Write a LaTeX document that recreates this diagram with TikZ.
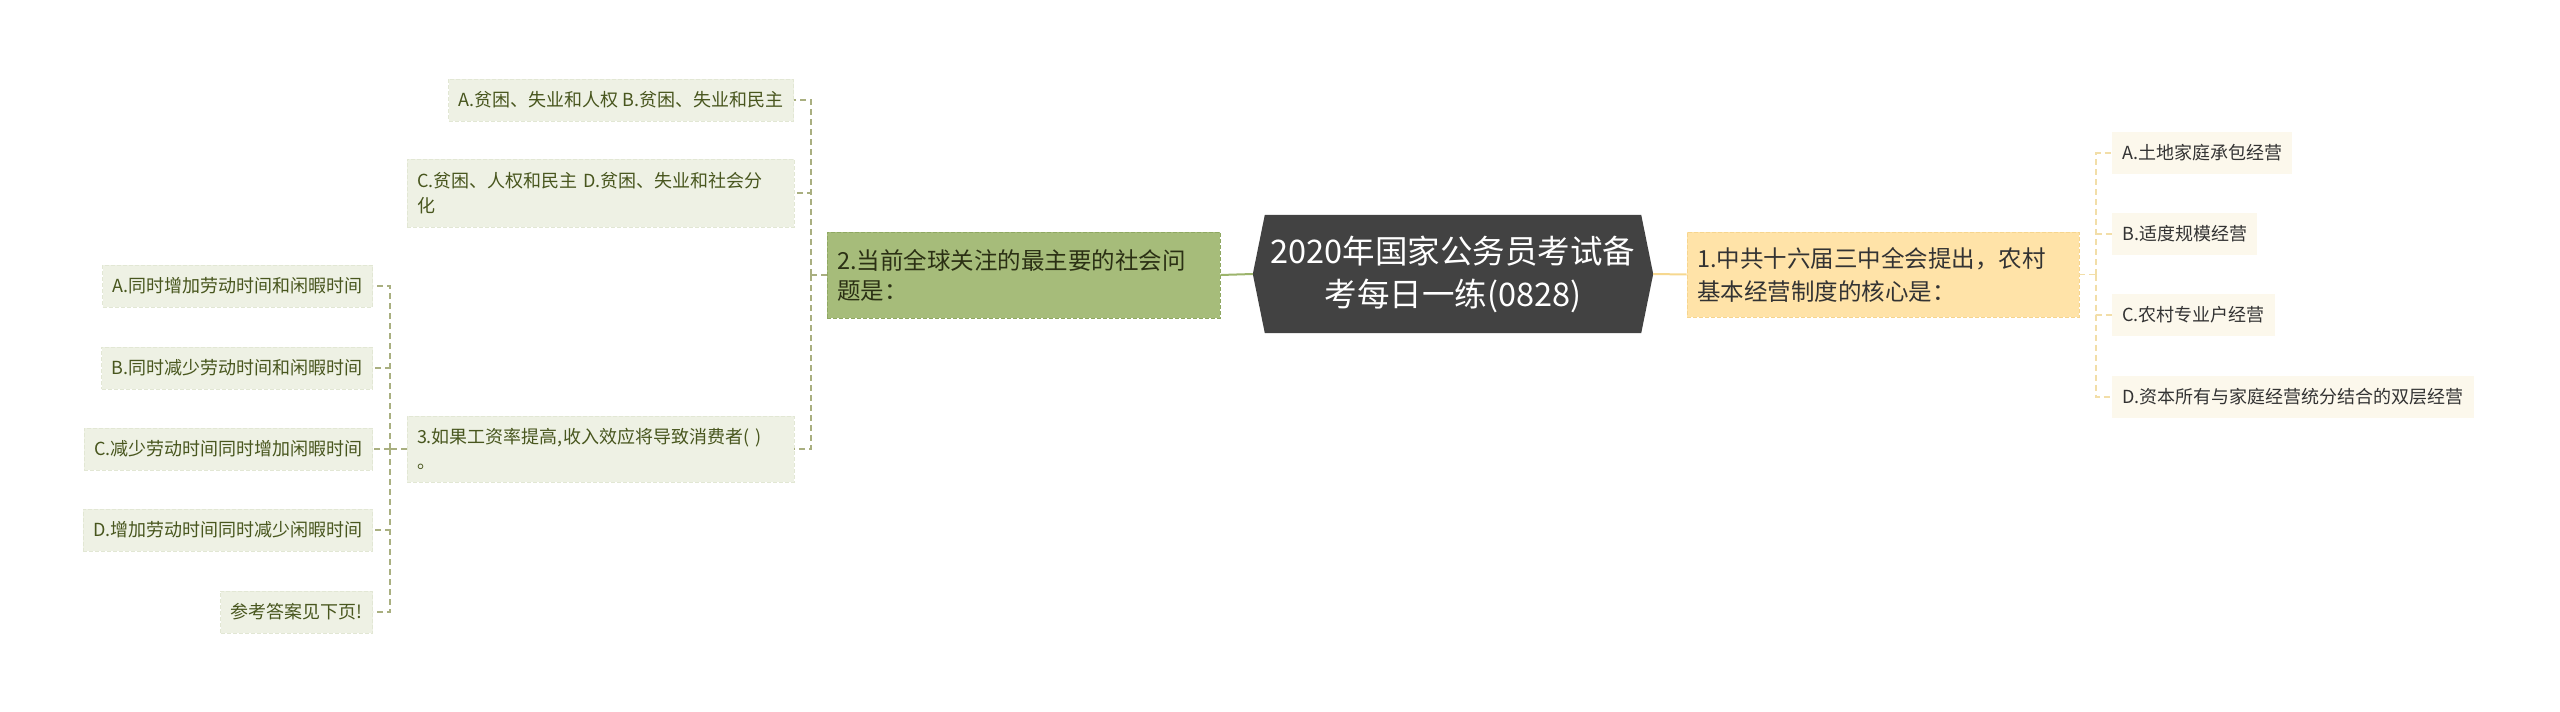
\documentclass[tikz,border=0pt]{standalone}
\usepackage{fontspec}
\newfontfamily\cjk{Noto Sans CJK SC}
\usetikzlibrary{backgrounds}
\definecolor{cfill}{HTML}{424242}
\definecolor{gfill}{HTML}{A6BC7A}
\definecolor{gline}{HTML}{8FA862}
\definecolor{gtext}{HTML}{2B3014}
\definecolor{lfill}{HTML}{EEF1E4}
\definecolor{lborder}{HTML}{E2E7D4}
\definecolor{ltext}{HTML}{48561E}
\definecolor{yfill}{HTML}{FFE3A8}
\definecolor{yborder}{HTML}{F6D58E}
\definecolor{rfill}{HTML}{FCF8EC}
\definecolor{rtext}{HTML}{333333}
\definecolor{lconncol}{HTML}{A9AF80}
\definecolor{rconncol}{HTML}{F2DEA8}
\definecolor{gconn}{HTML}{9CB46C}
\definecolor{yconn}{HTML}{F6D890}
\tikzset{
  every node/.style={font=\cjk},
  centernode/.style={minimum width=400pt, minimum height=118pt, text=white, align=center,
     font=\cjk\fontsize{32.5}{43}\selectfont, inner sep=0pt},
  greenbox/.style={fill=gfill, draw=gline, dashed, dash pattern=on 4pt off 2pt, line width=1pt,
     text=gtext, align=left, text width=373pt, inner xsep=10pt, minimum height=86pt,
     font=\cjk\fontsize{23.5}{30}\selectfont},
  yellowbox/.style={fill=yfill, draw=yborder, dash pattern=on 4pt off 2pt, line width=0.8pt,
     text=rtext, align=left, text width=372pt, inner xsep=10pt, minimum height=85pt,
     font=\cjk\fontsize{23.5}{33}\selectfont},
  leftleaf/.style={fill=lfill, draw=lborder, dash pattern=on 4pt off 2pt, line width=0.8pt,
     text=ltext, inner xsep=10pt, minimum height=42pt, anchor=east,
     font=\cjk\fontsize{18}{24}\selectfont},
  leftbig/.style={fill=lfill, draw=lborder, dash pattern=on 4pt off 2pt, line width=0.8pt,
     text=ltext, align=left, text width=367pt, inner xsep=10pt,
     font=\cjk\fontsize{18}{25}\selectfont},
  rightleaf/.style={fill=rfill, draw=none, text=rtext, inner xsep=10pt, minimum height=42pt,
     anchor=west, font=\cjk\fontsize{18}{24}\selectfont},
  lconn/.style={draw=lconncol, line width=1.4pt, dash pattern=on 6pt off 4pt},
  rconn/.style={draw=rconncol, line width=1.4pt, dash pattern=on 6pt off 4pt},
}
\begin{document}
\begin{tikzpicture}[x=1pt,y=-1pt]
\useasboundingbox (0,0) rectangle (2560,712);

% center
\node[centernode] (c) at (1453,274) {2020年国家公务员考试备\\考每日一练(0828)};
\begin{scope}[on background layer]
\fill[cfill] ([xshift=12pt]c.north west) -- ([xshift=-12pt]c.north east) -- (c.east)
  -- ([xshift=-12pt]c.south east) -- ([xshift=12pt]c.south west) -- (c.west) -- cycle;
\end{scope}

% level 1
\node[greenbox] (n2) at (1023.5,275) {2.当前全球关注的最主要的社会问\\题是：};
\node[yellowbox] (n1) at (1883,274.5) {1.中共十六届三中全会提出，农村\\基本经营制度的核心是：};

% right leaves
\node[rightleaf] (ra) at (2112,153) {A.土地家庭承包经营};
\node[rightleaf] (rb) at (2112,234) {B.适度规模经营};
\node[rightleaf] (rc) at (2112,315) {C.农村专业户经营};
\node[rightleaf] (rd) at (2112,397) {D.资本所有与家庭经营统分结合的双层经营};

% node 2 children
\node[leftleaf] (n2a) at (794,100) {A.贫困、失业和人权 B.贫困、失业和民主};
\node[leftbig, minimum height=68pt] (n2b) at (600.5,193) {C.贫困、人权和民主 D.贫困、失业和社会分\\化};
\node[leftbig, minimum height=66pt] (n3) at (600.5,449) {3.如果工资率提高,收入效应将导致消费者( )\\。};

% node 3 children
\node[leftleaf] (la) at (373,286) {A.同时增加劳动时间和闲暇时间};
\node[leftleaf] (lb) at (373,368) {B.同时减少劳动时间和闲暇时间};
\node[leftleaf] (lc) at (373,449) {C.减少劳动时间同时增加闲暇时间};
\node[leftleaf] (ld) at (373,530) {D.增加劳动时间同时减少闲暇时间};
\node[leftleaf] (le) at (373,612) {参考答案见下页!};

% junctions
\coordinate (j1) at (2096,274.5);
\coordinate (j2) at (811,275);
\coordinate (j3) at (390,449);

% connectors
\draw[gconn, line width=2pt] (c.west) -- (n2.east);
\draw[yconn, line width=2pt] (c.east) -- (n1.west);

\draw[rconn] (n1.east) -- (j1);
\draw[rconn] (j1) |- (ra.west);
\draw[rconn] (j1) |- (rb.west);
\draw[rconn] (j1) |- (rc.west);
\draw[rconn] (j1) |- (rd.west);

\draw[lconn] (n2.west) -- (j2);
\draw[lconn] (j2) |- (n2a.east);
\draw[lconn] (j2) |- (n2b.east);
\draw[lconn] (j2) |- (n3.east);

\draw[lconn] (n3.west) -- (j3);
\draw[lconn] (j3) |- (la.east);
\draw[lconn] (j3) |- (lb.east);
\draw[lconn] (j3) |- (lc.east);
\draw[lconn] (j3) |- (ld.east);
\draw[lconn] (j3) |- (le.east);
\end{tikzpicture}
\end{document}
